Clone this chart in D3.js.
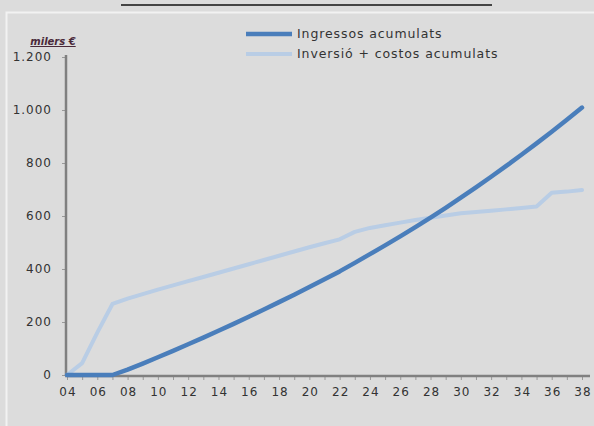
<!DOCTYPE html>
<html>
<head>
<meta charset="utf-8">
<script src="https://cdn.jsdelivr.net/npm/d3@7"></script>
<style>
  html, body { margin: 0; padding: 0; background: #dcdcdc; }
  svg { display: block; }
</style>
</head>
<body>
<div id="chart"></div>
<script>
(function () {

/* data */
  var years = d3.range(2004, 2039)

  // milers d'euros, llegits del gràfic
  var ingressos = [0, 0, 0, 0, 20, 43, 67, 91, 116, 141, 167, 193, 220, 247, 275, 303,
    332, 361, 391, 423, 456, 489, 523, 558, 594, 631, 669, 708, 748, 789, 831, 874,
    918, 963, 1009]

  var inversio = [0, 45, 160, 268, 288, 305, 322, 338, 354, 370, 386, 402, 418, 434,
    450, 466, 482, 497, 512, 540, 555, 565, 575, 585, 593, 602, 610, 615, 620, 625,
    630, 636, 688, 692, 698]

  var yTicks = [0, 200, 400, 600, 800, 1000, 1200]
  var xLabels = d3.range(2004, 2039, 2)

  var seriesNames = ["Ingressos acumulats", "Inversió + costos acumulats"]
  var seriesColors = ["#4a7ebb", "#b9cde5"]
  var seriesWidths = [4.5, 4]


/* preparation */
  var width = 594,
      height = 426

  var svg = d3.select('#chart')
    .append("svg")
    .attr('width', width)
    .attr('height', height)

  var font = "'DejaVu Sans', Verdana, sans-serif"

  //scales
  var x = d3.scaleLinear().domain([2004, 2038]).range([67, 582])
  var y = d3.scaleLinear().domain([0, 1200]).range([375, 57])

  //frame: the cut title underline and the lighter border
  svg.append("line")
    .attr("x1", 121).attr("x2", 492)
    .attr("y1", 5).attr("y2", 5)
    .attr("stroke", "#444").attr("stroke-width", 2)
  svg.append("path")
    .attr("d", "M6.5,426V12.5H594")
    .attr("fill", "none")
    .attr("stroke", "#f2f2f2")
    .attr("stroke-width", 2)


/* axes */
  var yAxis = d3.axisLeft(y)
    .tickValues(yTicks)
    .tickSize(4)
    .tickPadding(10)
    .tickFormat(function (d) { return d3.format(",")(d).replace(",", ".") })

  var gy = svg.append("g")
    .attr("transform", "translate(66,0)")
    .call(yAxis)

  var xAxis = d3.axisBottom(x)
    .tickValues(years)
    .tickSize(4)
    .tickFormat("")

  var gx = svg.append("g")
    .attr("transform", "translate(0,376)")
    .call(xAxis)

  ;[gx, gy].forEach(function (g) {
    g.select(".domain").remove()
    g.selectAll(".tick line").attr("stroke", "#9a9a9a")
    g.selectAll("text")
      .attr("fill", "#333")
      .style("font-family", font)
      .style("font-size", "12px")
      .style("letter-spacing", "1px")
  })

  //x labels every two years
  svg.append("g").selectAll("text")
    .data(xLabels)
    .enter().append("text")
    .attr("x", function (d) { return x(d) + 1 })
    .attr("y", 396)
    .attr("text-anchor", "middle")
    .attr("fill", "#333")
    .style("font-family", font)
    .style("font-size", "12px")
    .style("letter-spacing", "1px")
    .text(function (d) { return String(d).slice(2) })

  //axis lines
  svg.append("line")
    .attr("x1", 66).attr("x2", 66)
    .attr("y1", y(1200) - 2).attr("y2", y(0) + 1)
    .attr("stroke", "#808080").attr("stroke-width", 2.5)
  svg.append("line")
    .attr("x1", 65).attr("x2", 590)
    .attr("y1", y(0) + 1).attr("y2", y(0) + 1)
    .attr("stroke", "#808080").attr("stroke-width", 2.5)

  //unit label
  svg.append("text")
    .attr("x", 53).attr("y", 45)
    .attr("text-anchor", "middle")
    .attr("fill", "#4a2a3a")
    .style("font-family", font)
    .style("font-size", "10px")
    .style("font-weight", "bold")
    .style("font-style", "italic")
    .style("text-decoration", "underline")
    .text("milers €")


/* lines */
  var line = d3.line()
    .x(function (d, i) { return x(years[i]) })
    .y(function (d) { return y(d) })

  var series = [ingressos, inversio]

  //light line under, dark line on top
  svg.selectAll(".serie")
    .data([1, 0])
    .enter().append("path")
    .attr("class", "serie")
    .attr("d", function (k) { return line(series[k]) })
    .attr("fill", "none")
    .attr("stroke", function (k) { return seriesColors[k] })
    .attr("stroke-width", function (k) { return seriesWidths[k] })
    .attr("stroke-linejoin", "round")
    .attr("stroke-linecap", "round")


/* legend */
  var legend = svg.selectAll(".legend")
    .data(seriesNames)
    .enter().append("g")
    .attr("class", "legend")
    .attr("transform", function (d, i) { return "translate(246," + (34 + i * 20) + ")" })

  legend.append("line")
    .attr("x1", 0).attr("x2", 46)
    .attr("stroke", function (d, i) { return seriesColors[i] })
    .attr("stroke-width", function (d, i) { return seriesWidths[i] })

  legend.append("text")
    .attr("x", 51)
    .attr("dy", "0.35em")
    .attr("fill", "#333")
    .style("font-family", font)
    .style("font-size", "12.5px")
    .style("letter-spacing", "0.9px")
    .text(function (d) { return d })

})()
</script>
</body>
</html>
